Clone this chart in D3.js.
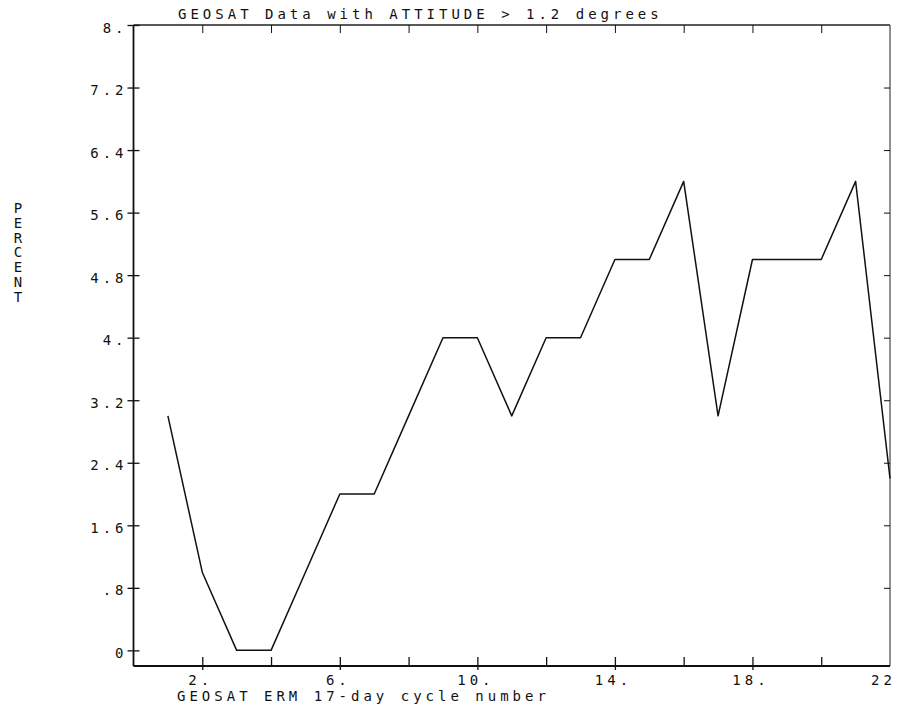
<!DOCTYPE html>
<html>
<head>
<meta charset="utf-8">
<script src="https://cdn.jsdelivr.net/npm/d3@7"></script>
<style>
  html, body { margin: 0; padding: 0; background: #fff; }
  svg { display: block; }
  text { font-family: "DejaVu Sans Mono", monospace; font-size: 14px; letter-spacing: 4px; fill: #111; }
  .axis path, .axis line { stroke: #111; }
</style>
</head>
<body>
<div id="chart"></div>
<script>
// data
const cycles = [1, 2, 3, 4, 5, 6, 7, 8, 9, 10, 11, 12, 13, 14, 15, 16, 17, 18, 19, 20, 21, 22];
const percent = [3.0, 1.0, 0, 0, 1.0, 2.0, 2.0, 3.0, 4.0, 4.0, 3.0, 4.0, 4.0, 5.0, 5.0, 6.0, 3.0, 5.0, 5.0, 5.0, 6.0, 2.2];

const xTicks = [2, 4, 6, 8, 10, 12, 14, 16, 18, 20];
const xLabelTicks = [2, 6, 10, 14, 18, 22];
const xTickLabels = ["2.", "6.", "10.", "14.", "18.", "22"];
const yTicks = [0, 0.8, 1.6, 2.4, 3.2, 4, 4.8, 5.6, 6.4, 7.2, 8];
const yTickLabels = ["0", ".8", "1.6", "2.4", "3.2", "4.", "4.8", "5.6", "6.4", "7.2", "8."];

const title = "GEOSAT Data with ATTITUDE > 1.2 degrees";
const xTitle = "GEOSAT ERM 17-day cycle number";
const yTitle = "PERCENT";

const width = 900, height = 705;
const margin = { top: 25, right: 10, bottom: 39, left: 133.5 };

const svg = d3.select("#chart").append("svg")
    .attr("width", width)
    .attr("height", height);

let x = d3.scaleLinear()
    .domain([0, 22])
    .range([margin.left, width - margin.right]);

let y = d3.scaleLinear()
    .domain([-0.2, 8])
    .range([height - margin.bottom, margin.top]);

const x0 = x.range()[0], x1 = x.range()[1];
const yb = y.range()[0], yt = y.range()[1];

// frame: top and right thinner
svg.append("line").attr("x1", x0).attr("x2", x1).attr("y1", yt).attr("y2", yt)
    .attr("stroke", "#222").attr("stroke-width", 1.3);
svg.append("line").attr("x1", x1).attr("x2", x1).attr("y1", yt).attr("y2", yb)
    .attr("stroke", "#333").attr("stroke-width", 1.1);

// top ticks (inward)
let topAxis = d3.axisTop(x).tickValues(xTicks).tickSize(-8).tickFormat("");
let gTop = svg.append("g").attr("class", "axis")
    .attr("transform", `translate(0,${yt})`).call(topAxis);
gTop.select(".domain").remove();

// right ticks (inward)
let rightAxis = d3.axisRight(y).tickValues(yTicks.slice(1, -1)).tickSize(-6).tickFormat("");
let gRight = svg.append("g").attr("class", "axis")
    .attr("transform", `translate(${x1},0)`).call(rightAxis);
gRight.select(".domain").remove();
gRight.selectAll("line").attr("stroke-width", 1);

// bottom axis
let xAxis = d3.axisBottom(x)
    .tickValues(xTicks.concat([22]))
    .tickSize(4)
    .tickSizeOuter(0)
    .tickFormat(d => {
        let i = xLabelTicks.indexOf(d);
        return i < 0 ? "" : xTickLabels[i];
    });
let gX = svg.append("g").attr("class", "axis")
    .attr("transform", `translate(0,${yb})`).call(xAxis);
gX.select(".domain").attr("d", `M${x0},0H${x1}`).attr("stroke-width", 1.8);
gX.selectAll(".tick line")
    .attr("y1", -9)
    .attr("y2", d => xLabelTicks.indexOf(d) < 0 ? 0 : 4)
    .attr("stroke-width", 1.3)
    .filter(d => d === 22).remove();
gX.selectAll(".tick text")
    .attr("y", 19).attr("dy", 0)
    .attr("dx", d => d === 22 ? -7 : -2)
    .attr("fill", "#111");

// left axis
let yAxis = d3.axisLeft(y)
    .tickValues(yTicks)
    .tickSize(6)
    .tickSizeOuter(0)
    .tickFormat((d, i) => yTickLabels[i]);
let gY = svg.append("g").attr("class", "axis")
    .attr("transform", `translate(${x0},0)`).call(yAxis);
gY.select(".domain").attr("d", `M0,${yt}V${yb}`).attr("stroke-width", 1.8);
gY.selectAll(".tick line").attr("x1", 6).attr("stroke-width", 1.3);
gY.selectAll(".tick text")
    .attr("x", -6).attr("dy", 0).attr("y", 7)
    .attr("fill", "#111");

// data line
let line = d3.line()
    .x((d, i) => x(cycles[i]))
    .y(d => y(d));

svg.append("path")
    .datum(percent)
    .attr("fill", "none")
    .attr("stroke", "#111")
    .attr("stroke-width", 1.5)
    .attr("stroke-linejoin", "round")
    .attr("d", line);

// titles
svg.append("text").attr("x", 178).attr("y", 19).text(title);
svg.append("text").attr("x", 177).attr("y", 701).text(xTitle);

svg.append("g").selectAll("text")
    .data(yTitle.split(""))
    .enter().append("text")
    .attr("x", 18)
    .attr("y", (d, i) => 213 + i * 14.8)
    .attr("text-anchor", "middle")
    .style("letter-spacing", "0px")
    .style("font-size", "14px")
    .text(d => d);
</script>
</body>
</html>
